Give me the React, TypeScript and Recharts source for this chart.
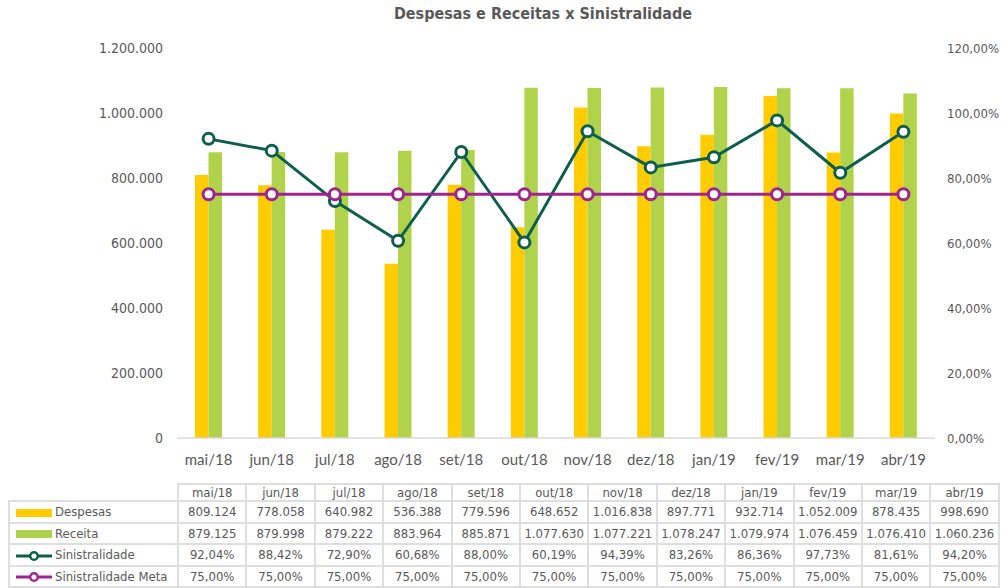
import React from "react";
import { ComposedChart, Bar, Line, XAxis, YAxis } from "recharts";

const months = ["mai/18", "jun/18", "jul/18", "ago/18", "set/18", "out/18", "nov/18", "dez/18", "jan/19", "fev/19", "mar/19", "abr/19"];
const despesas = [809124, 778058, 640982, 536388, 779596, 648652, 1016838, 897771, 932714, 1052009, 878435, 998690];
const receita = [879125, 879998, 879222, 883964, 885871, 1077630, 1077221, 1078247, 1079974, 1076459, 1076410, 1060236];
const sinistralidade = [0.9204, 0.8842, 0.729, 0.6068, 0.88, 0.6019, 0.9439, 0.8326, 0.8636, 0.9773, 0.8161, 0.942];
const meta = [0.75, 0.75, 0.75, 0.75, 0.75, 0.75, 0.75, 0.75, 0.75, 0.75, 0.75, 0.75];
const leftTicks = [0, 200000, 400000, 600000, 800000, 1000000, 1200000];
const rightTicks = [0, 0.2, 0.4, 0.6, 0.8, 1.0, 1.2];

const YELLOW = "#FFCC00";
const GREEN = "#B1D34B";
const DARK = "#0E5E4F";
const PURPLE = "#A0248F";
const TEXT = "#595959";
const FONT = "'DejaVu Sans Condensed', 'DejaVu Sans', sans-serif";

const data = months.map((m, i) => ({
  month: m,
  despesas: despesas[i],
  receita: receita[i],
  sin: sinistralidade[i],
  meta: meta[i],
}));

const fmtInt = (v: number) => String(Math.round(v)).replace(/\B(?=(\d{3})+(?!\d))/g, ".");
const fmtPct = (v: number) => (v * 100).toFixed(2).replace(".", ",") + "%";

const rows = [
  { name: "Despesas", values: despesas.map(fmtInt), kind: "bar", color: YELLOW },
  { name: "Receita", values: receita.map(fmtInt), kind: "bar", color: GREEN },
  { name: "Sinistralidade", values: sinistralidade.map(fmtPct), kind: "line", color: DARK },
  { name: "Sinistralidade Meta", values: meta.map(fmtPct), kind: "line", color: PURPLE },
];

const cellBorder = "2px solid #dedede";

function LegendKey({ kind, color }: { kind: string; color: string }) {
  return (
    <svg width={38} height={12} style={{ verticalAlign: "middle", marginRight: 3 }}>
      {kind === "bar" ? (
        <rect x={2} y={2} width={36} height={8} fill={color} />
      ) : (
        <>
          <line x1={2} y1={6} x2={38} y2={6} stroke={color} strokeWidth={3} />
          <circle cx={20} cy={6} r={3.8} fill="#fff" stroke={color} strokeWidth={2.5} />
        </>
      )}
    </svg>
  );
}

export default function App() {
  return (
    <div style={{ position: "absolute", left: 0, top: 0, width: 1002, height: 588, background: "#fff", fontFamily: FONT }}>
      <div
        style={{
          position: "absolute",
          top: 4,
          left: 343,
          width: 400,
          textAlign: "center",
          fontSize: 16,
          fontWeight: "bold",
          color: TEXT,
        }}
      >
        Despesas e Receitas x Sinistralidade
      </div>
      <ComposedChart
        width={1002}
        height={480}
        data={data}
        margin={{ top: 48, right: 0, bottom: 0, left: 0 }}
        barGap={0}
        style={{ position: "absolute", left: 0, top: 0 }}
      >
        <XAxis
          dataKey="month"
          height={42}
          tickLine={false}
          tickSize={0}
          tickMargin={16}
          axisLine={{ stroke: "#d9d9d9", strokeWidth: 1.5 }}
          tick={{ fill: TEXT, fontSize: 15, fontFamily: "Lato, sans-serif" }}
          interval={0}
        />
        <YAxis
          yAxisId="left"
          orientation="left"
          width={177}
          domain={[0, 1200000]}
          ticks={leftTicks}
          tickFormatter={fmtInt}
          axisLine={false}
          tickLine={false}
          tickSize={0}
          tickMargin={14}
          tick={{ fill: TEXT, fontSize: 14, fontFamily: FONT }}
        />
        <YAxis
          yAxisId="right"
          orientation="right"
          width={67}
          domain={[0, 1.2]}
          ticks={rightTicks}
          tickFormatter={fmtPct}
          axisLine={false}
          tickLine={false}
          tickSize={0}
          tickMargin={12}
          tick={{ fill: TEXT, fontSize: 13, fontFamily: FONT, textAnchor: "start" }}
        />
        <Bar yAxisId="left" dataKey="despesas" fill={YELLOW} barSize={13.5} isAnimationActive={false} />
        <Bar yAxisId="left" dataKey="receita" fill={GREEN} barSize={13.5} isAnimationActive={false} />
        <Line
          yAxisId="right"
          dataKey="sin"
          stroke={DARK}
          strokeWidth={3}
          dot={{ r: 5.5, fill: "#fff", stroke: DARK, strokeWidth: 3 }}
          isAnimationActive={false}
        />
        <Line
          yAxisId="right"
          dataKey="meta"
          stroke={PURPLE}
          strokeWidth={3}
          dot={{ r: 5.5, fill: "#fff", stroke: PURPLE, strokeWidth: 3 }}
          isAnimationActive={false}
        />
      </ComposedChart>
      <table
        style={{
          position: "absolute",
          left: 8,
          top: 483,
          borderCollapse: "collapse",
          tableLayout: "fixed",
          width: 990,
          fontSize: 13,
          color: TEXT,
          fontFamily: FONT,
        }}
      >
        <colgroup>
          <col style={{ width: 169 }} />
          {months.map((m) => (
            <col key={m} style={{ width: 68.4 }} />
          ))}
        </colgroup>
        <tbody>
          <tr style={{ height: 17 }}>
            <td style={{ borderTop: "none", borderLeft: "none", borderRight: cellBorder, borderBottom: cellBorder }} />
            {months.map((m) => (
              <td key={m} style={{ border: cellBorder, textAlign: "center", padding: 0 }}>
                {m}
              </td>
            ))}
          </tr>
          {rows.map((r) => (
            <tr key={r.name} style={{ height: 21.5 }}>
              <td style={{ border: cellBorder, padding: "0 0 0 4px", whiteSpace: "nowrap" }}>
                <LegendKey kind={r.kind} color={r.color} />
                {r.name}
              </td>
              {r.values.map((v, i) => (
                <td key={i} style={{ border: cellBorder, textAlign: "center", padding: 0 }}>
                  {v}
                </td>
              ))}
            </tr>
          ))}
        </tbody>
      </table>
    </div>
  );
}
